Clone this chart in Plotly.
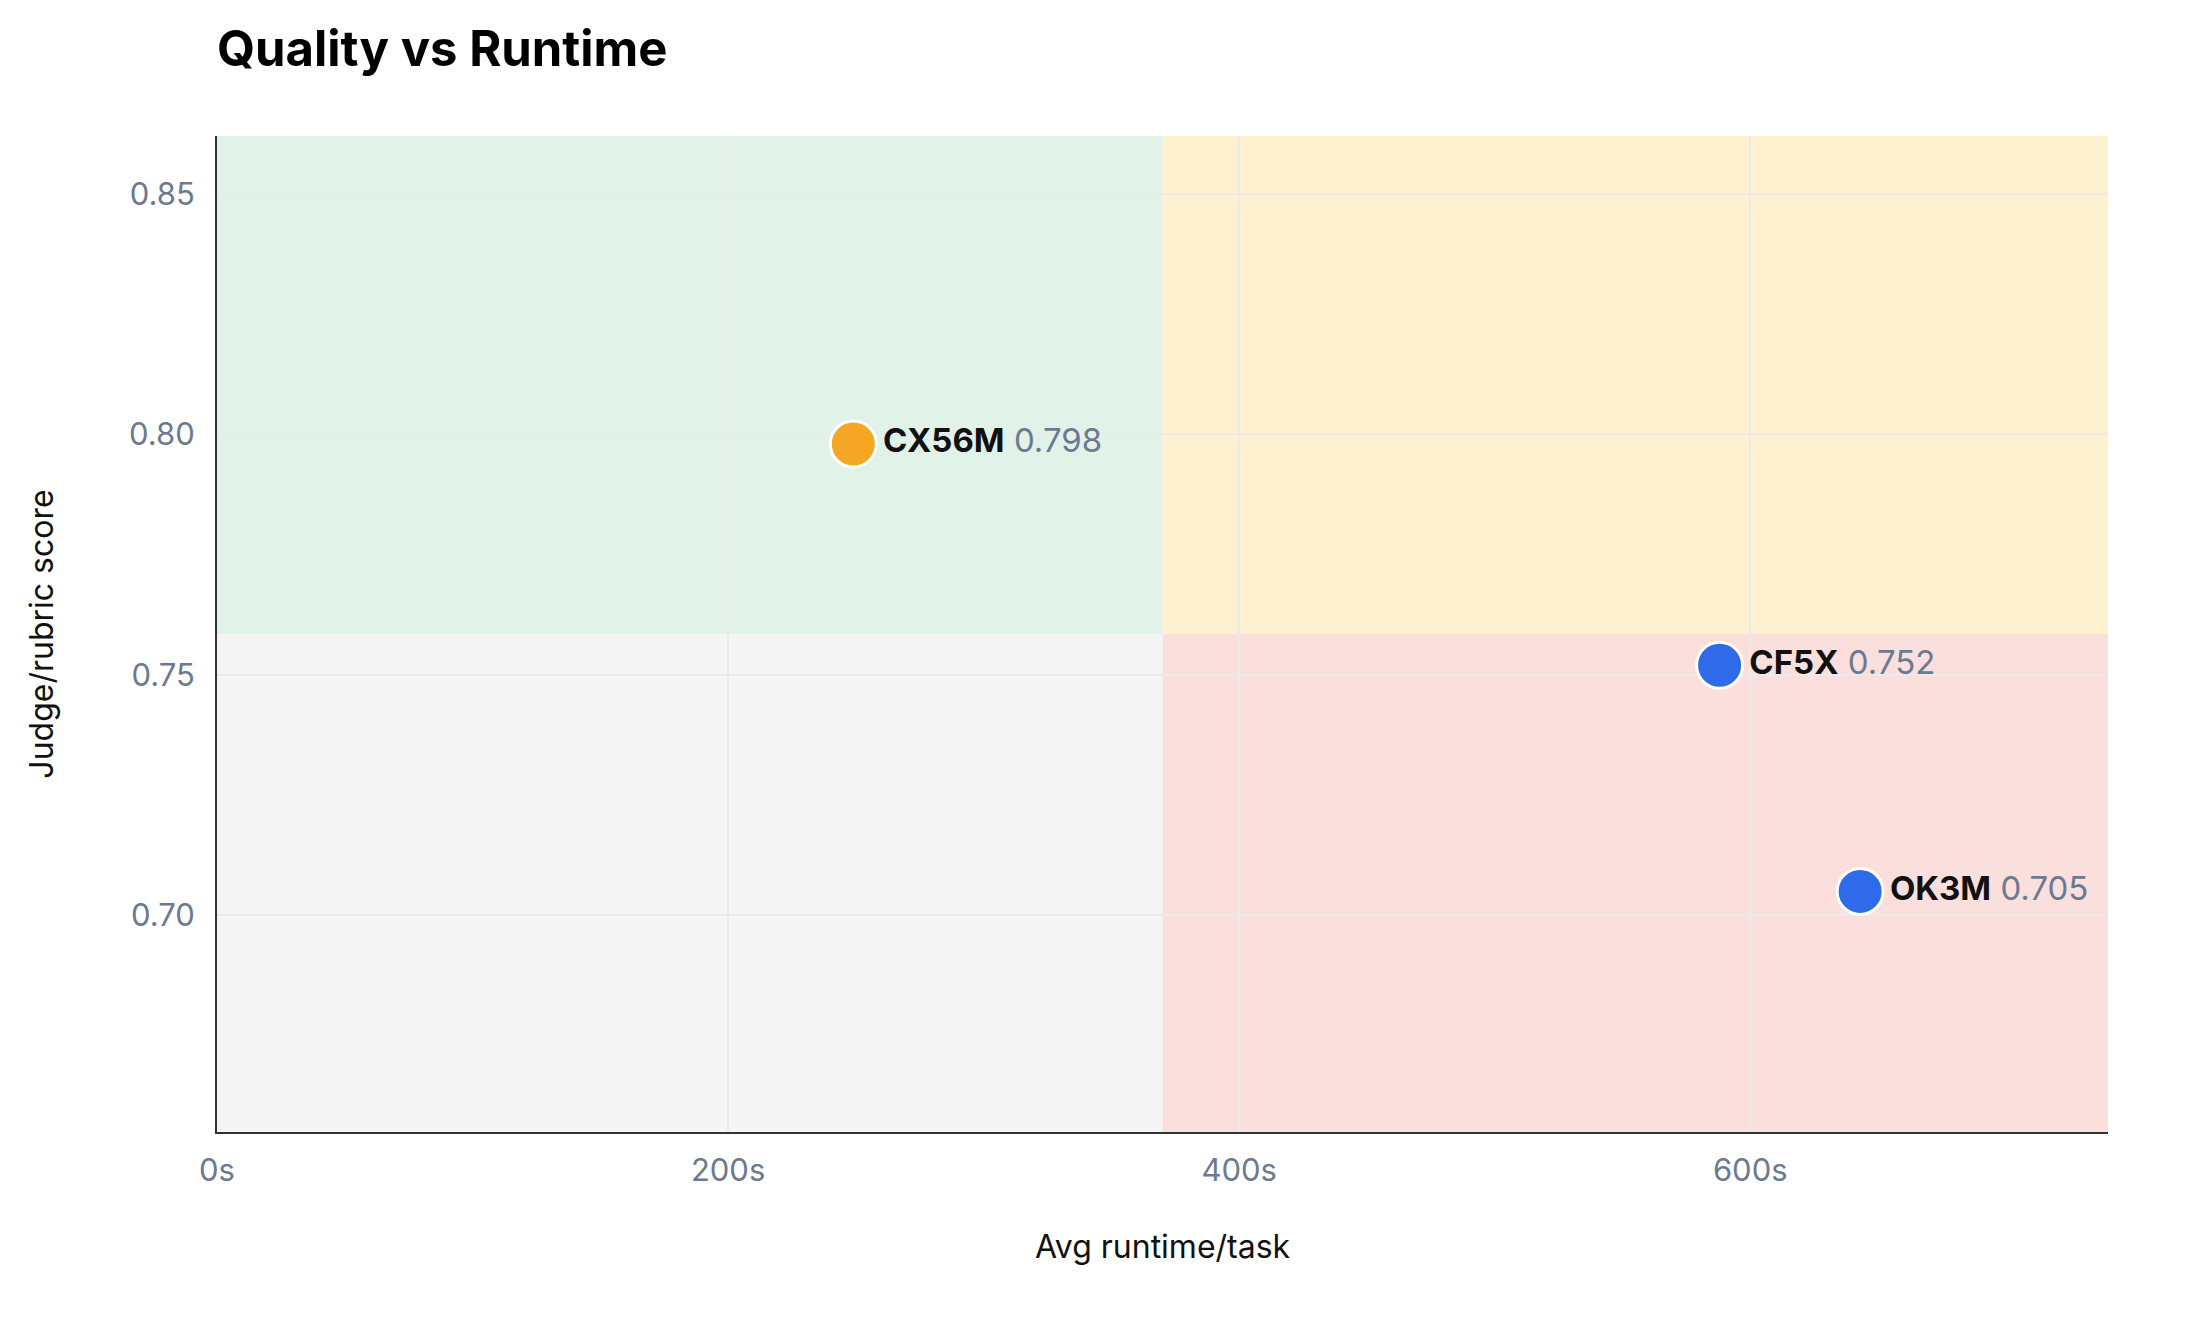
import plotly.graph_objects as go

models = ["CX56M", "CF5X", "OK3M"]
runtime_s = [249, 588, 643]
score = [0.798, 0.752, 0.705]
colors = ["#F5A623", "#2F6BE9", "#2F6BE9"]

x_range = [0, 740]
y_range = [0.655, 0.862]
x_mid = sum(x_range) / 2
y_mid = sum(y_range) / 2

labels = [f"<b>{m}</b> <span style='color:#6B7A90'>{s:.3f}</span>" for m, s in zip(models, score)]

fig = go.Figure()
fig.add_trace(go.Scatter(
    x=runtime_s, y=score, mode="markers+text",
    marker=dict(size=46, color=colors, line=dict(color="white", width=3)),
    text=labels, textposition="middle right",
    textfont=dict(family="Inter", size=33, color="#111111"),
    hoverinfo="skip", showlegend=False, cliponaxis=False,
))

# quadrant backgrounds
quads = [
    (x_range[0], x_mid, y_mid, y_range[1], "#E1F3E8"),
    (x_mid, x_range[1], y_mid, y_range[1], "#FEF1CF"),
    (x_range[0], x_mid, y_range[0], y_mid, "#F5F5F5"),
    (x_mid, x_range[1], y_range[0], y_mid, "#FADFDD"),
]
for x0, x1, y0, y1, c in quads:
    fig.add_shape(type="rect", x0=x0, x1=x1, y0=y0, y1=y1,
                  fillcolor=c, line_width=0, layer="below")

fig.update_layout(
    width=2200, height=1322,
    margin=dict(l=209, r=100, t=128, b=198),
    paper_bgcolor="white", plot_bgcolor="white",
    font=dict(family="Inter", size=32, color="#111111"),
    title=dict(text="<b>Quality vs Runtime</b>", x=0, xref="paper", xanchor="left",
               y=0.969, yanchor="middle", font=dict(size=49, color="#000000")),
)
fig.update_xaxes(
    range=x_range, dtick=200, ticksuffix="s",
    title=dict(text="Avg runtime/task", standoff=48, font=dict(size=32)),
    showline=True, linecolor="#333333", linewidth=2,
    gridcolor="#EBEBEB", gridwidth=1.5, zeroline=False,
    tickfont=dict(color="#6B7A90", size=31), ticks="", ticklabelstandoff=10,
)
fig.update_yaxes(
    range=y_range, dtick=0.05, tick0=0.7, tickformat=".2f",
    title=dict(text="Judge/rubric score", standoff=66, font=dict(size=32)),
    showline=True, linecolor="#333333", linewidth=2,
    gridcolor="#EBEBEB", gridwidth=1.5, zeroline=False,
    tickfont=dict(color="#6B7A90", size=31), ticks="", ticklabelstandoff=14,
)

fig.write_html("out.html")
